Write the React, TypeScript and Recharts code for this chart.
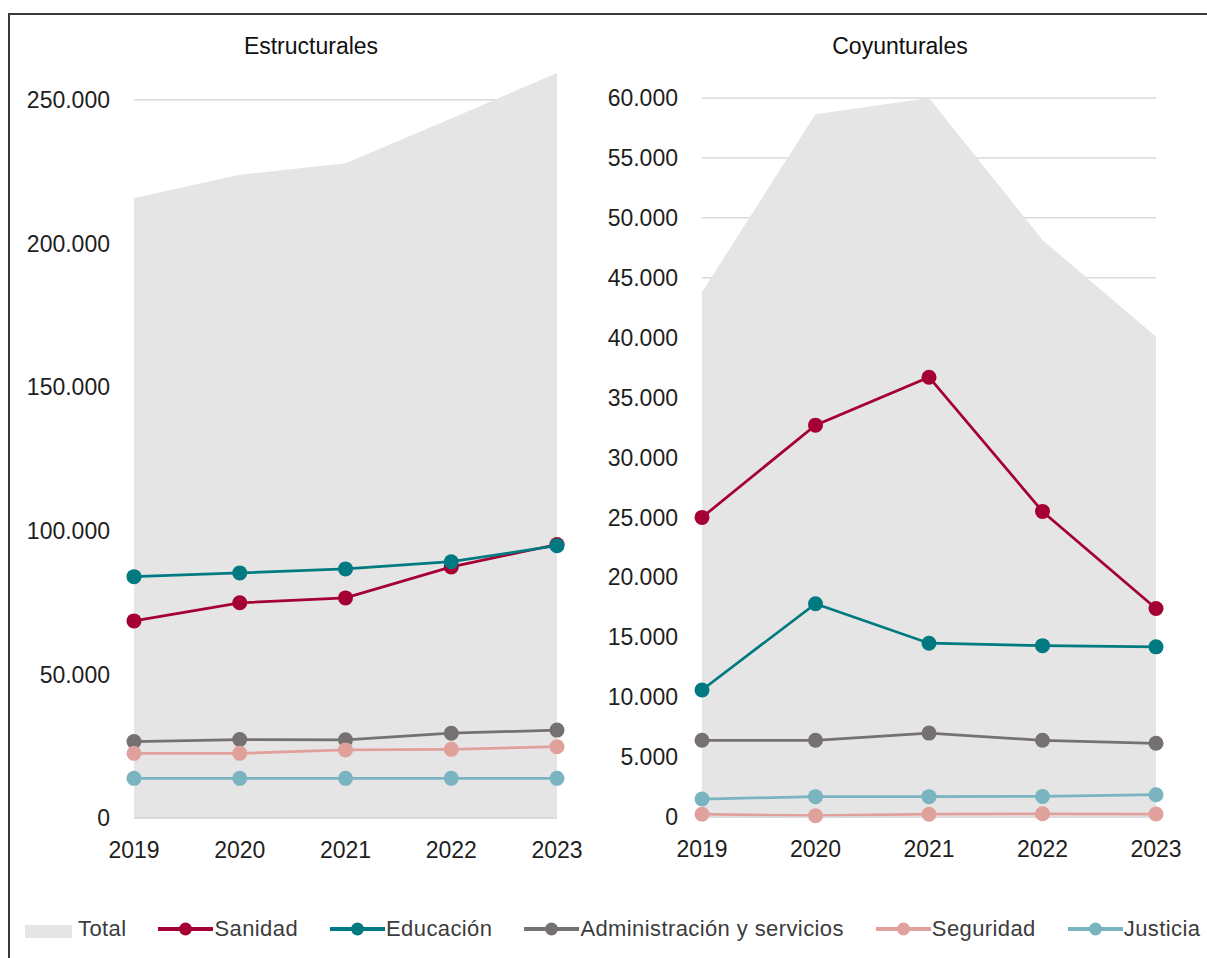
import { ComposedChart, Area, Line, XAxis, YAxis, CartesianGrid } from "recharts";

const years = ["2019", "2020", "2021", "2022", "2023"];

// Estructurales
const estTotal = [215800, 223900, 227900, 243500, 259300];
const estSanidad = [68600, 74900, 76600, 87400, 95200];
const estEducacion = [84000, 85300, 86700, 89200, 94800];
const estAdmin = [26600, 27300, 27200, 29500, 30600];
const estSeguridad = [22500, 22500, 23700, 23900, 24800];
const estJusticia = [13800, 13800, 13800, 13800, 13800];

// Coyunturales
const coyTotal = [43800, 58650, 60000, 48150, 40080];
const coySanidad = [25000, 32700, 36700, 25500, 17400];
const coyEducacion = [10600, 17800, 14500, 14300, 14200];
const coyAdmin = [6400, 6400, 7000, 6400, 6150];
const coySeguridad = [230, 110, 230, 270, 250];
const coyJusticia = [1500, 1700, 1700, 1720, 1860];

const estTicks = [0, 50000, 100000, 150000, 200000, 250000];
const coyTicks = [0, 5000, 10000, 15000, 20000, 25000, 30000, 35000, 40000, 45000, 50000, 55000, 60000];

const TOTAL_FILL = "#e5e5e5";
const series = [
  { key: "sanidad", name: "Sanidad", color: "#a50034" },
  { key: "educacion", name: "Educación", color: "#007a80" },
  { key: "admin", name: "Administración y servicios", color: "#767171" },
  { key: "seguridad", name: "Seguridad", color: "#e0a09b" },
  { key: "justicia", name: "Justicia", color: "#79b4c0" },
];

const FONT = "'Liberation Sans', Arial, sans-serif";

const fmt = (v: number) => String(v).replace(/\B(?=(\d{3})+(?!\d))/g, ".");

function buildRows(total: number[], s: number[][]) {
  return years.map((year, i) => ({
    year,
    total: total[i],
    sanidad: s[0][i],
    educacion: s[1][i],
    admin: s[2][i],
    seguridad: s[3][i],
    justicia: s[4][i],
  }));
}

const estData = buildRows(estTotal, [estSanidad, estEducacion, estAdmin, estSeguridad, estJusticia]);
const coyData = buildRows(coyTotal, [coySanidad, coyEducacion, coyAdmin, coySeguridad, coyJusticia]);

const tickStyle = { fontSize: 23, fill: "#1e1e1e", fontFamily: FONT };

function Panel(props: {
  data: any[];
  width: number;
  margin: { top: number; right: number; left: number; bottom: number };
  yWidth: number;
  domain: [number, number];
  ticks: number[];
}) {
  const { data, width, margin, yWidth, domain, ticks } = props;
  return (
    <ComposedChart width={width} height={870} data={data} margin={margin}>
      <CartesianGrid
        vertical={false}
        horizontalValues={ticks}
        stroke="#d9d9d9"
        strokeWidth={1.5}
      />
      <XAxis
        dataKey="year"
        scale="point"
        padding={{ left: 0, right: 0 }}
        height={40}
        tick={tickStyle}
        tickLine={false}
        axisLine={{ stroke: "#d9d9d9", strokeWidth: 1.5 }}
        tickMargin={18}
        interval={0}
      />
      <YAxis
        width={yWidth}
        domain={domain}
        ticks={ticks}
        tick={tickStyle}
        tickFormatter={fmt}
        tickLine={false}
        axisLine={false}
        tickMargin={18}
        interval={0}
      />
      <Area
        dataKey="total"
        type="linear"
        fill={TOTAL_FILL}
        fillOpacity={1}
        stroke="none"
        isAnimationActive={false}
      />
      {series.map((s) => (
        <Line
          key={s.key}
          dataKey={s.key}
          type="linear"
          stroke={s.color}
          strokeWidth={2.75}
          dot={{ r: 7.5, fill: s.color, stroke: s.color, strokeWidth: 0 }}
          activeDot={false}
          isAnimationActive={false}
        />
      ))}
    </ComposedChart>
  );
}

function LegendRow() {
  return (
    <div
      style={{
        position: "absolute",
        left: 25,
        top: 914,
        height: 30,
        display: "flex",
        alignItems: "center",
        gap: 32,
        fontFamily: FONT,
        fontSize: 22,
        letterSpacing: 0.4,
        color: "#3c3c3c",
        whiteSpace: "nowrap",
      }}
    >
      <div style={{ display: "flex", alignItems: "center" }}>
        <div style={{ width: 47, height: 13, background: TOTAL_FILL, marginRight: 6, marginTop: 4 }} />
        <span>Total</span>
      </div>
      {series.map((s) => (
        <div key={s.key} style={{ display: "flex", alignItems: "center" }}>
          <svg width={55} height={20} style={{ marginRight: 1 }}>
            <line x1={0} y1={10} x2={55} y2={10} stroke={s.color} strokeWidth={4} />
            <circle cx={27.5} cy={10} r={6.5} fill={s.color} />
          </svg>
          <span>{s.name}</span>
        </div>
      ))}
    </div>
  );
}

export default function App() {
  return (
    <div
      style={{
        position: "absolute",
        left: 0,
        top: 0,
        width: 1207,
        height: 958,
        overflow: "hidden",
        background: "#fff",
        fontFamily: FONT,
      }}
    >
      <div
        style={{
          position: "absolute",
          left: 8,
          top: 13,
          width: 1400,
          height: 1200,
          borderTop: "2px solid #3a3a3a",
          borderLeft: "2px solid #3a3a3a",
        }}
      />
      <div style={{ position: "absolute", left: 0, top: 0 }}>
        <Panel
          data={estData}
          width={590}
          margin={{ top: 71, right: 33, left: 0, bottom: 12 }}
          yWidth={134}
          domain={[0, 260000]}
          ticks={estTicks}
        />
      </div>
      <div style={{ position: "absolute", left: 590, top: 0 }}>
        <Panel
          data={coyData}
          width={617}
          margin={{ top: 98, right: 51, left: 0, bottom: 13 }}
          yWidth={112}
          domain={[0, 60000]}
          ticks={coyTicks}
        />
      </div>
      <div
        style={{
          position: "absolute",
          left: 211,
          width: 200,
          top: 33,
          textAlign: "center",
          fontSize: 23,
          color: "#111",
        }}
      >
        Estructurales
      </div>
      <div
        style={{
          position: "absolute",
          left: 800,
          width: 200,
          top: 33,
          textAlign: "center",
          fontSize: 23,
          color: "#111",
        }}
      >
        Coyunturales
      </div>
      <LegendRow />
    </div>
  );
}
